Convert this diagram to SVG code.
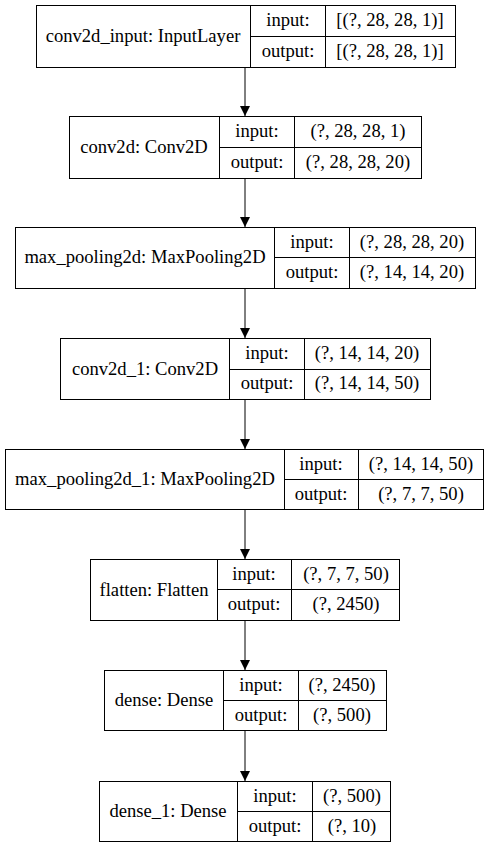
<svg xmlns="http://www.w3.org/2000/svg" width="491" height="848" viewBox="0 0 491 848">
<style>
rect,line.d{fill:none;stroke:#000;stroke-width:1}
text{font-family:'Liberation Serif','DejaVu Serif','Times New Roman',serif;font-size:18.6px;fill:#000;text-anchor:middle}
.c line{stroke:#000;stroke-width:1}
</style>
<defs>
<marker id="ah" markerWidth="10" markerHeight="10" refX="10" refY="5" orient="auto" markerUnits="userSpaceOnUse">
<path d="M0,0 L10,5 L0,10 Z" fill="#000"/>
</marker>
</defs>
<rect x="0" y="0" width="491" height="848" fill="#fff" style="stroke:none"/>
<g id="n1" font-family="Liberation Serif, DejaVu Serif, serif">
<rect x="36.5" y="5.5" width="419" height="62"/>
<line class="d" x1="250.5" y1="5.5" x2="250.5" y2="67.5"/>
<line class="d" x1="325.5" y1="5.5" x2="325.5" y2="67.5"/>
<line class="d" x1="250.5" y1="36.5" x2="455.5" y2="36.5"/>
<text x="143" y="42">conv2d_input: InputLayer</text>
<text x="288" y="26">input:</text>
<text x="288" y="57">output:</text>
<text x="390" y="26">[(?, 28, 28, 1)]</text>
<text x="390" y="57">[(?, 28, 28, 1)]</text>
</g>
<g id="n2">
<rect x="69.5" y="116.5" width="352" height="62"/>
<line class="d" x1="219.5" y1="116.5" x2="219.5" y2="178.5"/>
<line class="d" x1="294.5" y1="116.5" x2="294.5" y2="178.5"/>
<line class="d" x1="219.5" y1="147.5" x2="421.5" y2="147.5"/>
<text x="144" y="153">conv2d: Conv2D</text>
<text x="257" y="137">input:</text>
<text x="257" y="168">output:</text>
<text x="358" y="137">(?, 28, 28, 1)</text>
<text x="358" y="168">(?, 28, 28, 20)</text>
</g>
<g id="n3">
<rect x="15.5" y="227.5" width="460" height="61"/>
<line class="d" x1="274.5" y1="227.5" x2="274.5" y2="288.5"/>
<line class="d" x1="349.5" y1="227.5" x2="349.5" y2="288.5"/>
<line class="d" x1="274.5" y1="257.5" x2="475.5" y2="257.5"/>
<text x="145" y="263">max_pooling2d: MaxPooling2D</text>
<text x="312" y="248">input:</text>
<text x="312" y="278">output:</text>
<text x="412" y="248">(?, 28, 28, 20)</text>
<text x="412" y="278">(?, 14, 14, 20)</text>
</g>
<g id="n4">
<rect x="60.5" y="338.5" width="370" height="61"/>
<line class="d" x1="229.5" y1="338.5" x2="229.5" y2="399.5"/>
<line class="d" x1="304.5" y1="338.5" x2="304.5" y2="399.5"/>
<line class="d" x1="229.5" y1="369.5" x2="430.5" y2="369.5"/>
<text x="145" y="375">conv2d_1: Conv2D</text>
<text x="267" y="359">input:</text>
<text x="267" y="389">output:</text>
<text x="367" y="359">(?, 14, 14, 20)</text>
<text x="367" y="389">(?, 14, 14, 50)</text>
</g>
<g id="n5">
<rect x="5.5" y="449.5" width="478" height="60"/>
<line class="d" x1="284.5" y1="449.5" x2="284.5" y2="509.5"/>
<line class="d" x1="358.5" y1="449.5" x2="358.5" y2="509.5"/>
<line class="d" x1="284.5" y1="479.5" x2="483.5" y2="479.5"/>
<text x="145" y="485">max_pooling2d_1: MaxPooling2D</text>
<text x="321" y="470">input:</text>
<text x="321" y="500">output:</text>
<text x="421" y="470">(?, 14, 14, 50)</text>
<text x="421" y="500">(?, 7, 7, 50)</text>
</g>
<g id="n6">
<rect x="90.5" y="559.5" width="309" height="61"/>
<line class="d" x1="217.5" y1="559.5" x2="217.5" y2="620.5"/>
<line class="d" x1="291.5" y1="559.5" x2="291.5" y2="620.5"/>
<line class="d" x1="217.5" y1="589.5" x2="399.5" y2="589.5"/>
<text x="154" y="596">flatten: Flatten</text>
<text x="254" y="580">input:</text>
<text x="254" y="610">output:</text>
<text x="346" y="580">(?, 7, 7, 50)</text>
<text x="346" y="610">(?, 2450)</text>
</g>
<g id="n7">
<rect x="104.5" y="670.5" width="282" height="60"/>
<line class="d" x1="223.5" y1="670.5" x2="223.5" y2="730.5"/>
<line class="d" x1="298.5" y1="670.5" x2="298.5" y2="730.5"/>
<line class="d" x1="223.5" y1="700.5" x2="386.5" y2="700.5"/>
<text x="164" y="706">dense: Dense</text>
<text x="261" y="691">input:</text>
<text x="261" y="721">output:</text>
<text x="342" y="691">(?, 2450)</text>
<text x="342" y="721">(?, 500)</text>
</g>
<g id="n8">
<rect x="99.5" y="781.5" width="291" height="60"/>
<line class="d" x1="237.5" y1="781.5" x2="237.5" y2="841.5"/>
<line class="d" x1="312.5" y1="781.5" x2="312.5" y2="841.5"/>
<line class="d" x1="237.5" y1="811.5" x2="390.5" y2="811.5"/>
<text x="168" y="817">dense_1: Dense</text>
<text x="275" y="802">input:</text>
<text x="275" y="832">output:</text>
<text x="352" y="802">(?, 500)</text>
<text x="352" y="832">(?, 10)</text>
</g>
<g id="connectors" class="c">
<line x1="245" y1="68" x2="245" y2="116" marker-end="url(#ah)"/>
<line x1="245" y1="179" x2="245" y2="227" marker-end="url(#ah)"/>
<line x1="245" y1="289" x2="245" y2="338" marker-end="url(#ah)"/>
<line x1="245" y1="400" x2="245" y2="449" marker-end="url(#ah)"/>
<line x1="245" y1="510" x2="245" y2="559" marker-end="url(#ah)"/>
<line x1="245" y1="621" x2="245" y2="670" marker-end="url(#ah)"/>
<line x1="245" y1="731" x2="245" y2="781" marker-end="url(#ah)"/>
</g>
</svg>
